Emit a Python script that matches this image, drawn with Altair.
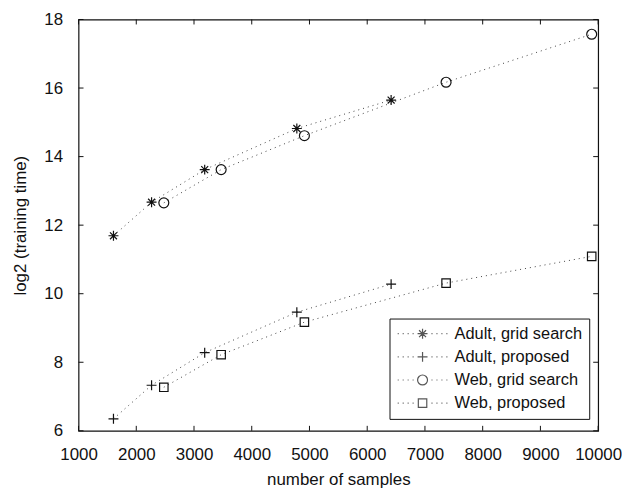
import altair as alt
import pandas as pd

# ---- data ----
series_names = ["Adult, grid search", "Adult, proposed", "Web, grid search", "Web, proposed"]
adult_n = [1605, 2265, 3185, 4781, 6414]
web_n = [2477, 3470, 4912, 7366, 9888]
adult_grid = [11.69, 12.67, 13.62, 14.82, 15.65]
adult_prop = [6.35, 7.33, 8.28, 9.46, 10.28]
web_grid = [12.65, 13.62, 14.61, 16.17, 17.57]
web_prop = [7.27, 8.22, 9.17, 10.31, 11.09]
x_ticks = [1000, 2000, 3000, 4000, 5000, 6000, 7000, 8000, 9000, 10000]
y_ticks = [6, 8, 10, 12, 14, 16, 18]

rows = []
for name, ns, vals in [
    (series_names[0], adult_n, adult_grid),
    (series_names[1], adult_n, adult_prop),
    (series_names[2], web_n, web_grid),
    (series_names[3], web_n, web_prop),
]:
    for n, v in zip(ns, vals):
        rows.append({"series": name, "n": n, "t": v})
df = pd.DataFrame(rows)
xt = pd.DataFrame({"n": x_ticks})
yt = pd.DataFrame({"t": y_ticks})

W, H = 523, 414
FONT = "Liberation Sans"
TXT = "#111111"

# marker shapes (unit paths)
star = "M-1,0L1,0M0,-1L0,1M-0.7,-0.7L0.7,0.7M-0.7,0.7L0.7,-0.7"
plus = "M-1,0L1,0M0,-1L0,1"
circ = "M1,0A1,1 0 1,1 -1,0A1,1 0 1,1 1,0Z"
sq = "M-0.85,-0.85L0.85,-0.85L0.85,0.85L-0.85,0.85Z"
mark_paths = [star, plus, circ, sq]

dots = "".join(f"M{d},0h0.2M{-d - 0.2},0h0.2" for d in [1.8, 2.8, 3.8, 4.8])
legend_paths = [p + dots for p in mark_paths]

xscale = alt.Scale(domain=[1000, 10000], nice=False, zero=False)
yscale = alt.Scale(domain=[6, 18], nice=False, zero=False)
xaxis = alt.Axis(values=x_ticks, format="d", title="number of samples", grid=False,
                 ticks=False, domain=False, labelPadding=16, titlePadding=9,
                 labelFlush=False, labelOverlap=False)
yaxis = alt.Axis(values=y_ticks, format="d", title="log2 (training time)", grid=False,
                 ticks=False, domain=False, labelPadding=16, titlePadding=14,
                 labelFlush=False, labelOverlap=False)

X = alt.X("n:Q", scale=xscale, axis=xaxis)
Y = alt.Y("t:Q", scale=yscale, axis=yaxis)

lines = alt.Chart(df).mark_line(strokeDash=[1, 4], strokeWidth=1, color="#444444").encode(
    x=X, y=Y, detail="series:N"
)

points = alt.Chart(df).mark_point(filled=False, size=100, strokeWidth=1.2, color="#111111", opacity=1).encode(
    x=X, y=Y,
    shape=alt.Shape("series:N", scale=alt.Scale(domain=series_names, range=mark_paths), legend=None),
)

# legend-only layer: its points are moved outside the x domain and clipped away
legend_layer = alt.Chart(df).transform_calculate(
    far="datum.n + 100000"
).mark_point(filled=False, size=100, strokeWidth=1.2, color="#111111", clip=True).encode(
    x=alt.X("far:Q", scale=xscale, axis=xaxis),
    y=Y,
    shape=alt.Shape(
        "series:N",
        scale=alt.Scale(domain=series_names, range=legend_paths),
        legend=alt.Legend(
            title=None, orient="none", legendX=313, legendY=301, padding=7,
            symbolOffset=18, labelOffset=24, rowPadding=6.3,
            labelFont=FONT, labelFontSize=16.5, labelColor=TXT,
            strokeColor="#111111", fillColor="white",
            symbolSize=100, symbolStrokeWidth=1.2,
        ),
    ),
)

tick_len = 5
bottom_ticks = alt.Chart(xt).mark_rule(color="#111111", strokeWidth=1).encode(
    x=X, y=alt.value(H), y2=alt.value(H - tick_len))
top_ticks = alt.Chart(xt).mark_rule(color="#111111", strokeWidth=1).encode(
    x=X, y=alt.value(0), y2=alt.value(tick_len))
left_ticks = alt.Chart(yt).mark_rule(color="#111111", strokeWidth=1).encode(
    y=Y, x=alt.value(0), x2=alt.value(tick_len))
right_ticks = alt.Chart(yt).mark_rule(color="#111111", strokeWidth=1).encode(
    y=Y, x=alt.value(W), x2=alt.value(W - tick_len))

chart = alt.layer(
    lines, points, legend_layer, bottom_ticks, top_ticks, left_ticks, right_ticks
).resolve_scale(shape="independent").resolve_legend(shape="independent").properties(
    width=W, height=H,
    padding={"left": 4, "top": 1, "right": 0, "bottom": 0},
    background="white",
).configure_view(
    stroke="#111111", strokeWidth=1.2
).configure_axis(
    labelFont=FONT, labelFontSize=17, labelColor=TXT,
    titleFont=FONT, titleFontSize=17, titleColor=TXT, titleFontWeight="normal",
)

chart.save("out.html", embed_options={"renderer": "svg", "actions": False})
